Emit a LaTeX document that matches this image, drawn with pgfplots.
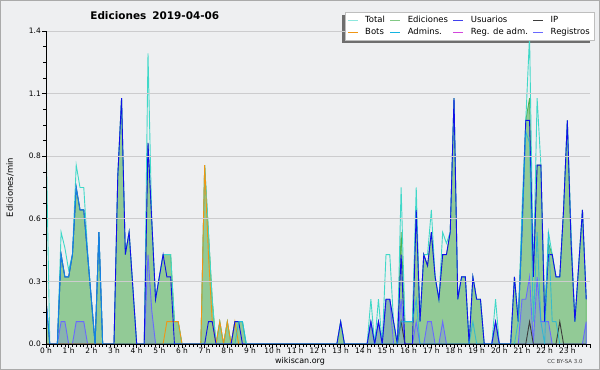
\documentclass[border=0pt]{standalone}
\usepackage{pgfplots}
\pgfplotsset{compat=1.18}
\usepackage{fontspec}
\setmainfont{DejaVu Sans}

\definecolor{bgc}{RGB}{238,239,241}
\definecolor{gridc}{RGB}{204,204,206}
\definecolor{framec}{RGB}{170,170,170}
\definecolor{totc}{RGB}{64,216,200}
\definecolor{edline}{RGB}{76,178,80}
\definecolor{edfill}{RGB}{146,202,150}
\definecolor{usc}{RGB}{16,16,232}
\definecolor{ipc}{RGB}{60,60,60}
\definecolor{botc}{RGB}{240,150,20}
\definecolor{admc}{RGB}{20,180,225}
\definecolor{regadmc}{RGB}{210,70,220}
\definecolor{regc}{RGB}{105,105,255}
\definecolor{legb}{RGB}{190,190,190}
\definecolor{shadc}{RGB}{110,110,110}

\pgfplotstableread{
x y
0 0.95
1 0
3 0
4 0.5
5 0.43
6 0.33
7 0.4
8 0.8
9 0.7
10 0.7
11 0.42
12 0.2
13 0
14 0.5
15 0
18 0
19 0.75
20 1.1
21 0.4
22 0.5
23 0.25
24 0
26 0
27 1.3
28 0.55
29 0.2
30 0.3
31 0.4
32 0.4
33 0.4
34 0.1
35 0.1
36 0
41 0
42 0.8
43 0.5
44 0.2
45 0
46 0.1
47 0
48 0.1
49 0
50 0.1
51 0.1
52 0.1
53 0
77 0
78 0.1
79 0
85 0
86 0.2
87 0
88 0.2
89 0
90 0.4
91 0.4
92 0.1
93 0
94 0.7
95 0.1
96 0.1
97 0.1
98 0.7
99 0.1
100 0.4
101 0.4
102 0.6
103 0.3
104 0.2
105 0.5
106 0.45
107 0.5
108 1.1
109 0.2
110 0.3
111 0.3
112 0
113 0.3
114 0.2
115 0.2
116 0
118 0
119 0.2
120 0
123 0
124 0.3
125 0.1
126 0.6
127 1.0
128 1.38
129 0.3
130 1.1
131 0.8
132 0.1
133 0.5
134 0.4
135 0.3
136 0.3
137 0.6
138 1.0
139 0.5
140 0.1
141 0.35
142 0.6
143 0.2
}\total

\pgfplotstableread{
x y
0 0.2
1 0
3 0
4 0.4
5 0.3
6 0.3
7 0.4
8 0.7
9 0.6
10 0.6
11 0.4
12 0.2
13 0
14 0.5
15 0
18 0
19 0.75
20 1.1
21 0.4
22 0.5
23 0.25
24 0
26 0
27 0.9
28 0.55
29 0.2
30 0.3
31 0.4
32 0.4
33 0.4
34 0.1
35 0.1
36 0
41 0
42 0.8
43 0.5
44 0.2
45 0
46 0.1
47 0
48 0.1
49 0
50 0.1
51 0.1
52 0.1
53 0
77 0
78 0.1
79 0
85 0
86 0.1
87 0
88 0.1
89 0
90 0.2
91 0.2
92 0.1
93 0
94 0.5
95 0.1
96 0.1
97 0.1
98 0.6
99 0.1
100 0.4
101 0.35
102 0.5
103 0.3
104 0.2
105 0.4
106 0.4
107 0.5
108 1.1
109 0.2
110 0.3
111 0.3
112 0
113 0.3
114 0.2
115 0.2
116 0
118 0
119 0.1
120 0
123 0
124 0.3
125 0.1
126 0.55
127 1.0
128 1.1
129 0.3
130 0.8
131 0.8
132 0.15
133 0.45
134 0.4
135 0.3
136 0.3
137 0.6
138 1.0
139 0.45
140 0.1
141 0.35
142 0.6
143 0.2
}\edic

\pgfplotstableread{
x y
0 0.2
1 0
3 0
4 0.4
5 0.3
6 0.3
7 0.4
8 0.7
9 0.6
10 0.6
11 0.4
12 0.2
13 0
14 0.5
15 0
18 0
19 0.75
20 1.1
21 0.4
22 0.5
23 0.25
24 0
26 0
27 0.9
28 0.55
29 0.2
30 0.3
31 0.4
32 0.3
33 0.3
34 0
42 0
43 0.1
44 0.1
45 0
49 0
50 0.1
51 0.1
52 0
77 0
78 0.1
79 0
85 0
86 0.1
87 0
88 0.1
89 0
90 0.2
91 0.2
92 0.1
93 0
94 0.4
95 0
97 0
98 0.6
99 0.1
100 0.4
101 0.35
102 0.5
103 0.3
104 0.2
105 0.4
106 0.4
107 0.5
108 1.1
109 0.2
110 0.3
111 0.3
112 0
113 0.3
114 0.2
115 0.2
116 0
118 0
119 0.1
120 0
123 0
124 0.3
125 0.1
126 0.5
127 1.0
128 1.0
129 0.3
130 0.8
131 0.8
132 0.1
133 0.4
134 0.4
135 0.3
136 0.3
137 0.6
138 1.0
139 0.45
140 0.1
141 0.35
142 0.6
143 0.2
}\usuarios

\pgfplotstableread{
x y
0 0
93 0
94 0.1
95 0
127 0
128 0.1
129 0
135 0
136 0.1
137 0
143 0
}\ip

\pgfplotstableread{
x y
0 0
31 0
32 0.1
33 0.1
34 0.1
35 0.1
36 0
41 0
42 0.8
43 0.4
44 0.1
45 0
46 0.1
47 0
48 0.1
49 0
50 0.1
51 0
}\bots

\pgfplotstableread{
x y
0 0.2
1 0
3 0
4 0.4
5 0.3
6 0.3
7 0.4
8 0.7
9 0.6
10 0.6
11 0.4
12 0.2
13 0
14 0.5
15 0
50 0
51 0.1
52 0.1
53 0
93 0
94 0.1
95 0.1
96 0.1
97 0.1
98 0.2
99 0
112 0
113 0.1
114 0
124 0
125 0.1
126 0.5
127 0.95
128 0.9
129 0.1
130 0.5
131 0.1
132 0
133 0.5
134 0.1
135 0.1
136 0
}\admins

\pgfplotstableread{
x y
0 0
3 0
4 0.1
5 0.1
6 0
7 0
8 0.1
9 0.1
10 0.1
11 0
26 0
27 0.4
28 0.15
29 0
85 0
86 0.1
87 0
88 0.1
89 0
90 0.2
91 0.2
92 0
93 0
94 0.2
95 0
97 0
98 0.1
99 0
100 0
101 0.1
102 0.1
103 0
104 0
105 0.1
106 0
118 0
119 0.1
120 0
125 0
126 0.2
127 0.2
128 0.3
129 0
130 0.3
131 0.1
132 0.1
133 0.1
134 0
142 0
143 0.1
}\registros

\begin{document}
\begin{tikzpicture}
\useasboundingbox (0,0) rectangle (600bp,370bp);
\fill[bgc] (0,0) rectangle (600bp,370bp);
\draw[framec, line width=1.2bp] (0.6bp,0.6bp) rectangle (599.4bp,369.4bp);
\fill[shadc] (342bp,327bp) rectangle (590bp,355bp);
\begin{axis}[
  at={(46bp,26bp)}, anchor=south west,
  scale only axis, width=544bp, height=313bp,
  xmin=0, xmax=144, ymin=0, ymax=1.4,
  axis x line*=bottom, axis y line*=left,
  axis line style={black, line width=0.8bp, -},
  axis on top,
  xtick={0,6,...,144},
  xticklabels={0 h,1 h,2 h,3 h,4 h,5 h,6 h,7 h,8 h,9 h,10 h,11 h,12 h,13 h,14 h,15 h,16 h,17 h,18 h,19 h,20 h,21 h,22 h,23 h,{}},
  minor x tick num=5,
  ytick={0,0.28,0.56,0.84,1.12,1.4},
  yticklabels={0.0,0.3,0.6,0.8,1.1,1.4},
  minor y tick num=3,
  ymajorgrids, major grid style={gridc, line width=0.8bp},
  tick align=outside,
  major tick length=4bp, minor tick length=2.5bp,
  tick style={black, line width=0.6bp},
  /pgf/number format/assume math mode=true,
  ticklabel style={font=\fontsize{7.5}{8}\selectfont},
  xticklabel style={inner sep=1bp, yshift=1bp},
  yticklabel style={inner sep=1bp},
  title={Ediciones\hspace{6bp}2019-04-06},
  title style={at={(axis description cs:0.2,1.029)}, anchor=center, font=\bfseries\fontsize{10.5}{12}\selectfont},
  xlabel={wikiscan.org},
  xlabel style={at={(axis description cs:0.467,-0.054)}, anchor=center, font=\fontsize{8}{9}\selectfont},
  ylabel={Ediciones/min},
  ylabel style={at={(axis description cs:-0.066,0.5)}, anchor=center, font=\fontsize{8.5}{9}\selectfont},
  legend columns=4,
  legend cell align=left,
  legend style={at={(axis description cs:0.55,1.061)}, anchor=north west, draw=legb, fill=white,
    font=\fontsize{8.5}{9}\selectfont, inner sep=2bp, row sep=0bp,
    /tikz/every even column/.append style={column sep=3bp},
    /tikz/every odd column/.append style={column sep=5bp}},
  legend image code/.code={\draw[#1] (0bp,0bp) -- (10bp,0bp);},
]
\addplot[draw=edline, line width=0.8bp, fill=edfill, forget plot] table {\edic} \closedcycle;
\addplot[draw=regc, fill=regc, fill opacity=0.22, line width=0.9bp, forget plot] table {\registros} \closedcycle;
\addplot[totc, line width=0.9bp, forget plot] table {\total};
\addplot[botc, line width=0.9bp, forget plot] table {\bots};
\addplot[ipc, line width=0.9bp, forget plot] table {\ip};
\addplot[usc, line width=0.9bp, forget plot] table {\usuarios};
\addplot[admc, line width=0.9bp, opacity=0.7, forget plot] table {\admins};

\addlegendimage{totc!60, line width=0.8bp}\addlegendentry{Total}
\addlegendimage{edline!70, line width=0.8bp}\addlegendentry{Ediciones}
\addlegendimage{usc!80, line width=0.8bp}\addlegendentry{Usuarios}
\addlegendimage{ipc, line width=0.8bp}\addlegendentry{IP}
\addlegendimage{botc, line width=0.8bp}\addlegendentry{Bots}
\addlegendimage{admc, line width=0.8bp}\addlegendentry{Admins.}
\addlegendimage{regadmc, line width=0.8bp}\addlegendentry{Reg. de adm.}
\addlegendimage{regc, line width=0.8bp}\addlegendentry{Registros}
\end{axis}
\node[font=\fontsize{5.5}{6}\selectfont, text=black!75] at (565bp,8bp) {CC BY-SA 3.0};
\end{tikzpicture}
\end{document}
